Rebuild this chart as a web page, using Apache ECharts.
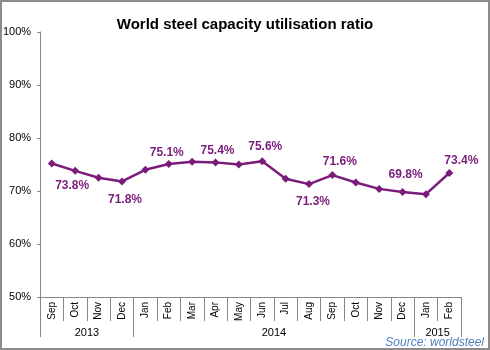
<!DOCTYPE html>
<html>
<head>
<meta charset="utf-8">
<script src="https://cdn.jsdelivr.net/npm/echarts@6/dist/echarts.min.js"></script>
<style>
  html, body { margin: 0; padding: 0; background: #fff; }
  #frame {
    position: relative;
    width: 490px;
    height: 350px;
    box-sizing: border-box;
    border: 2px solid #8c8c8c;
  }
  #chart { position: absolute; left: -2px; top: -2px; width: 490px; height: 350px; }
</style>
</head>
<body>
<div id="frame"><div id="chart"></div></div>
<script>
  // months on the axis (Sep 2013 .. Feb 2015)
  const months = ['Sep', 'Oct', 'Nov', 'Dec', 'Jan', 'Feb', 'Mar', 'Apr', 'May',
    'Jun', 'Jul', 'Aug', 'Sep', 'Oct', 'Nov', 'Dec', 'Jan', 'Feb'];
  // utilisation ratio, %
  const ratio = [75.2, 73.8, 72.5, 71.8, 74.0, 75.1, 75.5, 75.4, 75.0,
    75.6, 72.3, 71.3, 73.0, 71.6, 70.4, 69.8, 69.4, 73.4];
  // year groups under the months
  const years = ['2013', '2014', '2015'];
  const yearSpans = [4, 12, 2];
  // y ticks
  const yTicks = [50, 60, 70, 80, 90, 100];

  const purple = '#7b1c7b';

  // which points carry a value label (index -> side, nudge)
  const labelled = {
    1: ['bottom', [-3, 0]],
    3: ['bottom', [3, 3]],
    5: ['top', [-2, 4]],
    7: ['top', [2, 3]],
    9: ['top', [3, 0]],
    11: ['bottom', [4, 3]],
    13: ['top', [-16, -6]],
    15: ['top', [3, -2]],
    17: ['top', [12, 3]]
  };

  // group boundaries and centres for the year axis
  const yearEdges = [0];
  yearSpans.forEach(function (s) { yearEdges.push(yearEdges[yearEdges.length - 1] + s); });
  const yearCentres = years.map(function (y, i) { return (yearEdges[i] + yearEdges[i + 1]) / 2; });

  const seriesData = ratio.map(function (v, i) {
    const item = { value: v };
    if (labelled[i]) {
      item.label = { show: true, position: labelled[i][0], offset: labelled[i][1] };
    }
    return item;
  });

  const chart = echarts.init(document.getElementById('chart'));
  chart.setOption({
    animation: false,
    textStyle: { fontFamily: 'Liberation Sans, Arial, sans-serif' },
    title: {
      text: 'World steel capacity utilisation ratio',
      left: 'center',
      top: 12,
      textStyle: { fontSize: 15, fontWeight: 'bold', color: '#000' }
    },
    graphic: [{
      type: 'text',
      right: 6,
      bottom: 1,
      style: {
        text: 'Source: worldsteel',
        fill: '#4f81bd',
        font: 'italic 12px Liberation Sans, Arial, sans-serif'
      }
    }],
    grid: { left: 37, right: 29, top: 32, bottom: 53, containLabel: false },
    xAxis: [{
      type: 'category',
      data: months,
      boundaryGap: true,
      axisLine: { lineStyle: { color: '#868686', width: 1 } },
      axisTick: { show: true, interval: 0, length: 24, lineStyle: { color: '#868686' } },
      axisLabel: { interval: 0, rotate: 90, fontSize: 10, color: '#000', margin: 5 },
      splitLine: { show: false }
    }, {
      type: 'value',
      position: 'bottom',
      min: 0,
      max: months.length,
      axisLine: { show: false },
      axisTick: { show: true, customValues: yearEdges, length: 40, lineStyle: { color: '#868686' } },
      axisLabel: {
        show: true,
        customValues: yearCentres,
        margin: 30,
        fontSize: 11,
        color: '#000',
        formatter: function (v) {
          const i = yearCentres.indexOf(v);
          return i >= 0 ? years[i] : '';
        }
      },
      splitLine: { show: false }
    }],
    yAxis: {
      type: 'value',
      min: yTicks[0],
      max: yTicks[yTicks.length - 1],
      interval: 10,
      axisLine: { show: true, lineStyle: { color: '#868686', width: 1 } },
      axisTick: { show: true, length: 3, lineStyle: { color: '#868686' } },
      axisLabel: { formatter: '{value}%', fontSize: 11, color: '#000', margin: 9 },
      splitLine: { show: false }
    },
    series: [{
      type: 'line',
      xAxisIndex: 0,
      data: seriesData,
      symbol: 'diamond',
      symbolSize: 8,
      lineStyle: { color: purple, width: 2.5 },
      itemStyle: { color: purple },
      label: {
        show: false,
        formatter: function (p) { return p.value.toFixed(1) + '%'; },
        color: purple,
        fontSize: 12,
        fontWeight: 'bold'
      }
    }]
  });
</script>
</body>
</html>
